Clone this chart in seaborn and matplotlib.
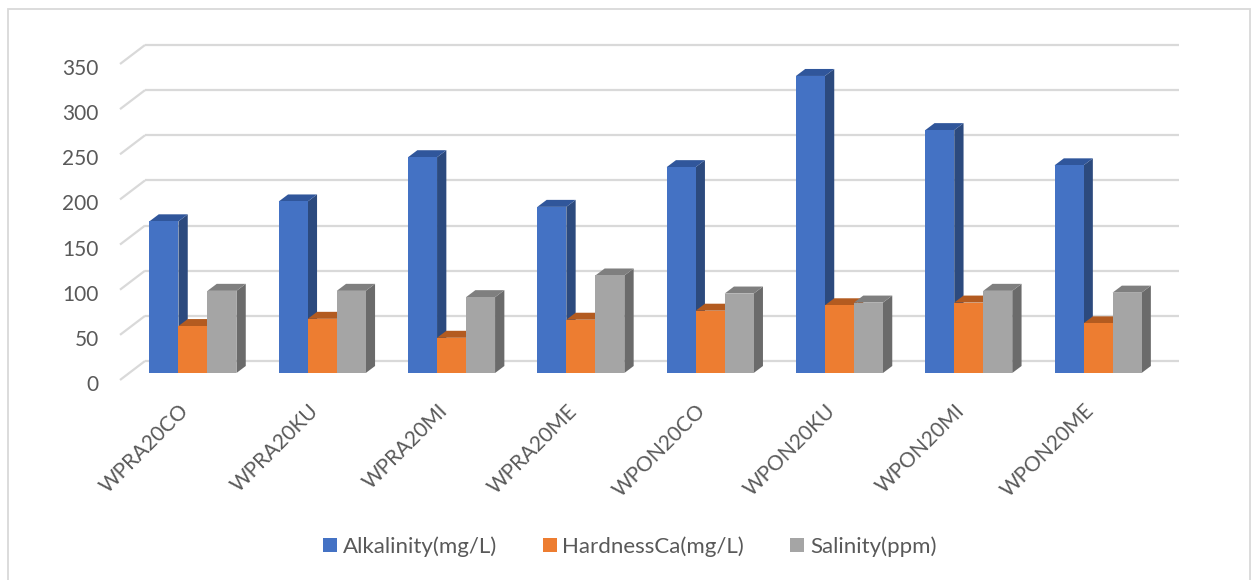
import numpy as np
import pandas as pd
import seaborn as sns
import matplotlib
matplotlib.use("Agg")
import matplotlib.pyplot as plt
from matplotlib.patches import Polygon, Rectangle, Patch
from matplotlib.transforms import offset_copy

# ---- data ----
sites = ["WPRA20CO", "WPRA20KU", "WPRA20MI", "WPRA20ME",
         "WPON20CO", "WPON20KU", "WPON20MI", "WPON20ME"]
alkalinity = [168, 190, 239, 184, 228, 329, 269, 230]
hardness_ca = [52, 60, 39, 59, 69, 75, 78, 55]
salinity = [91, 91, 84, 108, 88, 78, 91, 89]
series_names = ["Alkalinity(mg/L)", "HardnessCa(mg/L)", "Salinity(ppm)"]
y_ticks = [0, 50, 100, 150, 200, 250, 300, 350]

# ---- styling ----
front_colors = ["#4472C4", "#ED7D31", "#A5A5A5"]
side_colors = ["#2C4A7E", "#AE5A21", "#6B6B6B"]
top_colors = ["#30569B", "#B35B20", "#7F7F7F"]
grid_color = "#D9D9D9"
text_color = "#595959"
FS = 15
LEG_FS = 16

df = pd.DataFrame({
    "site": sites * 3,
    "series": np.repeat(series_names, len(sites)),
    "value": alkalinity + hardness_ca + salinity,
})

sns.set_theme(style="white")
plt.rcParams["font.family"] = ["Lato", "DejaVu Sans"]

W, H, DPI = 1255, 580, 100
fig = plt.figure(figsize=(W / DPI, H / DPI), dpi=DPI)
fig.patch.set_facecolor("white")

# plane in which the front faces of the columns sit (pixel geometry)
left_px, right_px, base_px, top_px = 128.3, 1162.7, 373.0, 57.0
ax = fig.add_axes([left_px / W, 1 - base_px / H,
                   (right_px - left_px) / W, (base_px - top_px) / H])

sns.barplot(data=df, x="site", y="value", hue="series",
            order=sites, hue_order=series_names, palette=front_colors,
            width=0.673, saturation=1, linewidth=0, legend=False,
            errorbar=None, ax=ax)
ax.set_xlim(-0.5, len(sites) - 0.5)
ax.set_ylim(0, 350)
ax.axis("off")

px_per_cat = (right_px - left_px) / len(sites)
px_per_unit = (base_px - top_px) / 350.0

# depth offsets (pixels, x right / y up) converted to data units
def depth(dx_px, dy_px):
    return dx_px / px_per_cat, dy_px / px_per_unit

fx, fy = depth(-8.3, -7.0)    # front edge of the floor
bx, by = depth(16.7, 12.0)    # back wall
dxb, dyb = depth(9.3, 7.0)    # depth of each column

# back-wall gridlines and left-wall diagonals
x_lo, x_hi = -0.5, len(sites) - 0.5
for v in y_ticks:
    ax.plot([x_lo + bx, x_hi + bx], [v + by, v + by], color=grid_color,
            lw=1.6, clip_on=False, zorder=0.5, solid_capstyle="butt")
    ax.plot([x_lo + fx, x_lo + bx], [v + fy, v + by], color=grid_color,
            lw=1.6, clip_on=False, zorder=0.5, solid_capstyle="butt")

# 3-D sides and tops for every column, drawn left to right
bars = sorted([p for p in ax.patches if isinstance(p, Rectangle)],
              key=lambda r: r.get_x())
for k, bar in enumerate(bars):
    j = k % 3
    x0 = bar.get_x()
    x1 = x0 + bar.get_width()
    h = bar.get_height()
    side = Polygon([(x1, 0), (x1 + dxb, dyb), (x1 + dxb, h + dyb), (x1, h)],
                   closed=True, facecolor=side_colors[j], edgecolor="none",
                   clip_on=False, zorder=2 + 2 * k)
    top = Polygon([(x0, h), (x1, h), (x1 + dxb, h + dyb), (x0 + dxb, h + dyb)],
                  closed=True, facecolor=top_colors[j], edgecolor="none",
                  clip_on=False, zorder=2 + 2 * k)
    ax.add_patch(side)
    ax.add_patch(top)
    bar.set_zorder(3 + 2 * k)
    bar.set_clip_on(False)

# value axis labels
ytr = offset_copy(ax.transData, fig=fig, x=-29.6, y=-18.0, units="dots")
for v in y_ticks:
    ax.text(x_lo, v, str(v), transform=ytr, ha="right", va="baseline",
            fontsize=FS, color=text_color)

# category labels
xtr = offset_copy(ax.transData, fig=fig, x=-3, y=-39, units="dots")
for i, s in enumerate(sites):
    ax.text(i, 0, s, transform=xtr, rotation=45, rotation_mode="anchor",
            ha="right", va="baseline", fontsize=FS, color=text_color)

# legend
handles = [Patch(facecolor=c, edgecolor="none", label=n)
           for c, n in zip(front_colors, series_names)]
fig.legend(handles=handles, loc="center", bbox_to_anchor=(629.5 / W, 1 - 546.5 / H),
           ncol=3, frameon=False, fontsize=LEG_FS, labelcolor=text_color,
           handlelength=0.63, handleheight=0.63, handletextpad=0.27,
           columnspacing=2.05, borderpad=0)

# chart border
fig.add_artist(Rectangle((7.5 / W, -0.05), (1249.5 - 7.5) / W, 1.05 - 9 / H,
                         transform=fig.transFigure, fill=False,
                         edgecolor=grid_color, lw=1.3))

fig.savefig("out.png", dpi=DPI, facecolor="white")
